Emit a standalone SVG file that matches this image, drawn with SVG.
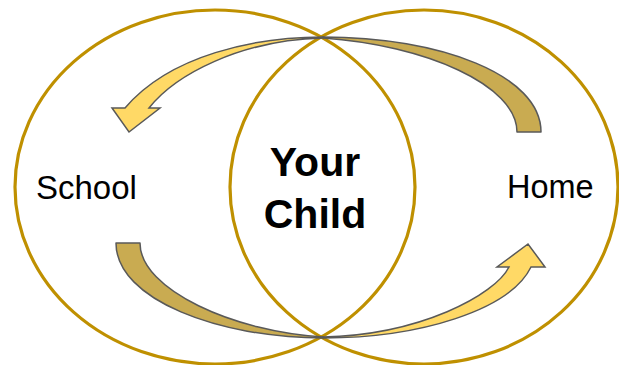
<svg xmlns="http://www.w3.org/2000/svg" width="619" height="365" viewBox="0 0 619 365">
<style>
.ring{fill:none;stroke:#bf9000;stroke-width:3.2}
.dark{fill:#c9ab51;stroke:#595959;stroke-width:1.5;stroke-linejoin:round}
.light{fill:#ffd966;stroke:#595959;stroke-width:1.5;stroke-linejoin:miter}
.lbl{font-family:"Liberation Sans",Arial,sans-serif;fill:#000}
</style>
<rect width="619" height="365" fill="#fff"/>
<g id="school">
<ellipse class="ring" cx="215" cy="187" rx="200" ry="177"/>
<text class="lbl" x="36" y="199" font-size="33">School</text>
</g>
<g id="home">
<ellipse class="ring" cx="424" cy="187" rx="194" ry="177"/>
<text class="lbl" x="507" y="198" font-size="32.5">Home</text>
</g>
<g id="child">
<text class="lbl" x="315" y="176" font-size="41" font-weight="bold" text-anchor="middle">Your</text>
<text class="lbl" x="315" y="228" font-size="41" font-weight="bold" text-anchor="middle">Child</text>
</g>
<g id="connectors">
<path class="dark" d="M323,37 C440,37 541,75 541,132 L517,132 C517,85 425,45 323,38 Z"/>
<path class="light" d="M323,37 C255,37 170,55 125,108 L112,108 L129,132 L160,108 L149,108 C175,75 240,40 323,38 Z"/>
<path class="dark" d="M116,243 C116,300 220,338 323,338 L323,337 C235,332 140,290 140,243 Z"/>
<path class="light" d="M323,338 C420,338 510,310 531,267 L545,267 L528,244 L497,267 L509,267 C495,295 420,335 323,337 Z"/>
</g>
</svg>
